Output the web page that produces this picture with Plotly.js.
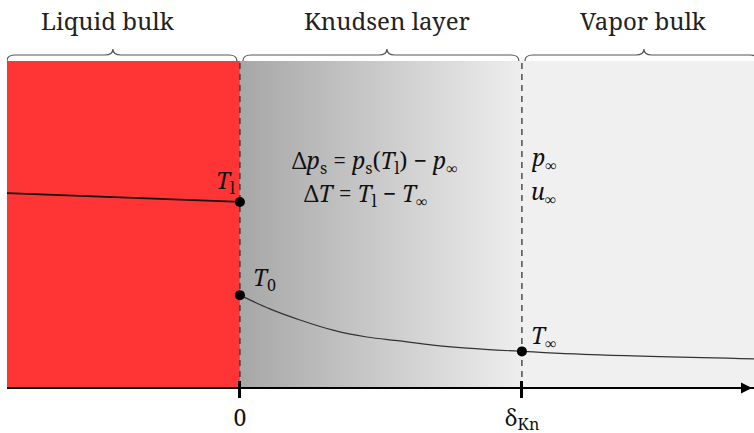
<!DOCTYPE html>
<html>
<head>
<meta charset="utf-8">
<script src="https://cdn.plot.ly/plotly-3.0.1.min.js"></script>
<style>html,body{margin:0;padding:0;background:#fff;}</style>
</head>
<body>
<div id="chart" style="width:754px;height:433px"></div>
<script>
// ---- data ----
const regionNames = ['Liquid bulk', 'Knudsen layer', 'Vapor bulk'];
const regionBounds = [-0.826, 0, 1, 1.823];
const tickVals = [0, 1];
const tickText = ['0', 'δ<sub>Kn</sub>'];
const liquidX = [-0.826, 0];
const liquidT = [0.596, 0.569];
const vaporX = [0, 0.106, 0.213, 0.33, 0.45, 0.567, 0.684, 0.805, 1.0, 1.277, 1.823];
const vaporT = [0.284, 0.242, 0.208, 0.177, 0.156, 0.144, 0.131, 0.122, 0.112, 0.101, 0.089];
const pointX = [0, 0, 1];
const pointT = [0.569, 0.284, 0.112];
const pointLabels = ['<i>T</i><sub>l</sub>', '<i>T</i><sub>0</sub>', '<i>T</i><sub>∞</sub>'];
const eqLines = ['Δ<i>p</i><sub>s</sub> = <i>p</i><sub>s</sub>(<i>T</i><sub>l</sub>) − <i>p</i><sub>∞</sub>',
                 'Δ<i>T</i> = <i>T</i><sub>l</sub> − <i>T</i><sub>∞</sub>'];
const farLines = ['<i>p</i><sub>∞</sub>', '<i>u</i><sub>∞</sub>'];

const FONT = 'Noto Serif';
const yTop = 1, yBot = 0;
const px = 1/327;   // y units per pixel
const pxx = 1/282;  // x units per pixel
const labelOffsets = [-132, 147, 404];

const traces = [];
traces.push({x:[regionBounds[0],regionBounds[1],regionBounds[1],regionBounds[0],regionBounds[0]],
  y:[yBot,yBot,yTop,yTop,yBot], fill:'toself', fillcolor:'#ff3434', mode:'lines', line:{width:0}, hoverinfo:'skip'});
traces.push({x:[regionBounds[1],regionBounds[2],regionBounds[2],regionBounds[1],regionBounds[1]],
  y:[yBot,yBot,yTop,yTop,yBot], fill:'toself', mode:'lines', line:{width:0}, hoverinfo:'skip',
  fillgradient:{type:'horizontal', colorscale:[[0,'#a7a7a7'],[1,'#eeeeee']]}});
traces.push({x:[regionBounds[2],regionBounds[3],regionBounds[3],regionBounds[2],regionBounds[2]],
  y:[yBot,yBot,yTop,yTop,yBot], fill:'toself', fillcolor:'#f0f0f0', mode:'lines', line:{width:0}, hoverinfo:'skip'});
tickVals.forEach(v => traces.push({x:[v,v], y:[yBot,yTop], mode:'lines', line:{color:'#333', width:1.3, dash:'6px,5px'}, hoverinfo:'skip'}));
traces.push({x:liquidX, y:liquidT, mode:'lines', line:{color:'#111', width:1.8}});
traces.push({x:vaporX, y:vaporT, mode:'lines', line:{color:'#333', width:1.2, shape:'spline'}});
traces.push({x:pointX, y:pointT, mode:'markers', marker:{color:'#000', size:10}});

const annotations = [];
regionNames.forEach((n,i) => {
  annotations.push({x:labelOffsets[i]*pxx, y:(388-21)*px, xref:'x', yref:'y', text:n, showarrow:false, font:{family:FONT, size:24, color:'#222'}});
});
annotations.push({x:pointX[0]-3*pxx, y:pointT[0]+20*px, xref:'x', yref:'y', text:pointLabels[0], showarrow:false, xanchor:'right', font:{family:FONT, size:23, color:'#111'}});
annotations.push({x:pointX[1]+11*pxx, y:pointT[1]+17*px, xref:'x', yref:'y', text:pointLabels[1], showarrow:false, xanchor:'left', font:{family:FONT, size:23, color:'#111'}});
annotations.push({x:pointX[2]+7*pxx, y:pointT[2]+15*px, xref:'x', yref:'y', text:pointLabels[2], showarrow:false, xanchor:'left', font:{family:FONT, size:23, color:'#111'}});
annotations.push({x:(290-240)*pxx, y:(388-162)*px, xref:'x', yref:'y', text:eqLines[0], showarrow:false, xanchor:'left', font:{family:FONT, size:23, color:'#111'}});
annotations.push({x:(302-240)*pxx, y:(388-195)*px, xref:'x', yref:'y', text:eqLines[1], showarrow:false, xanchor:'left', font:{family:FONT, size:23, color:'#111'}});
annotations.push({x:1+7*pxx, y:(388-159)*px, xref:'x', yref:'y', text:farLines[0], showarrow:false, xanchor:'left', font:{family:FONT, size:23, color:'#111'}});
annotations.push({x:1+7*pxx, y:(388-193)*px, xref:'x', yref:'y', text:farLines[1], showarrow:false, xanchor:'left', font:{family:FONT, size:23, color:'#111'}});
annotations.push({x:regionBounds[3]-2*pxx, y:0, ax:regionBounds[3]-30*pxx, ay:0, xref:'x', yref:'y', axref:'x', ayref:'y', text:'', showarrow:true, arrowhead:2, arrowsize:1.1, arrowwidth:2, arrowcolor:'#000'});

const shapes = [];
function brace(a, b, c) {
  const e = 8*pxx;
  const y0 = 1.0, y1 = 1.0 + 6*px, y2 = 1.0 + 12*px;
  return `M ${a},${y0} Q ${a},${y1} ${a+e},${y1} L ${c-e},${y1} Q ${c},${y1} ${c},${y2} Q ${c},${y1} ${c+e},${y1} L ${b-e},${y1} Q ${b},${y1} ${b},${y0}`;
}
for (let i = 0; i < regionNames.length; i++) {
  const a = regionBounds[i] + (i === 0 ? 0 : 3*pxx);
  const b = regionBounds[i+1] - (i === regionNames.length-1 ? -4*pxx : 3*pxx);
  const c = (labelOffsets[i] + (i === 0 ? 5 : 0)) * pxx;
  shapes.push({type:'path', xref:'x', yref:'y', path:brace(a,b,c), line:{color:'#555', width:1.2}});
}

const yRange = [-0.1376, 1.1865];
const axisPos = (0 - yRange[0])/(yRange[1]-yRange[0]);
const layout = {
  width:754, height:433, margin:{l:0,r:0,t:0,b:0}, showlegend:false,
  paper_bgcolor:'#fff', plot_bgcolor:'#fff',
  font:{family:FONT, color:'#1a1a1a'},
  xaxis:{domain:[7/754,1], range:[regionBounds[0], regionBounds[3]], anchor:'free', position:axisPos,
    showgrid:false, zeroline:false, showline:true, linecolor:'#000', linewidth:2,
    ticks:'outside', ticklen:9, tickwidth:3, tickcolor:'#000', tickvals:tickVals, ticktext:tickText,
    tickfont:{family:FONT, size:23, color:'#111'}},
  xaxis2:{domain:[7/754,1], overlaying:'x', matches:'x', anchor:'free', position:axisPos, side:'top',
    showgrid:false, zeroline:false, showline:false, ticks:'outside', ticklen:7, tickwidth:3, tickcolor:'#000',
    tickvals:tickVals, showticklabels:false},
  yaxis:{domain:[0,1], range:yRange, visible:false, showgrid:false, zeroline:false},
  annotations, shapes
};
traces.push({x:[0], y:[-1], xaxis:'x2', mode:'markers', marker:{size:1, opacity:0}, hoverinfo:'skip'});
Plotly.newPlot('chart', traces, layout, {displayModeBar:false, staticPlot:true});
</script>
</body>
</html>
